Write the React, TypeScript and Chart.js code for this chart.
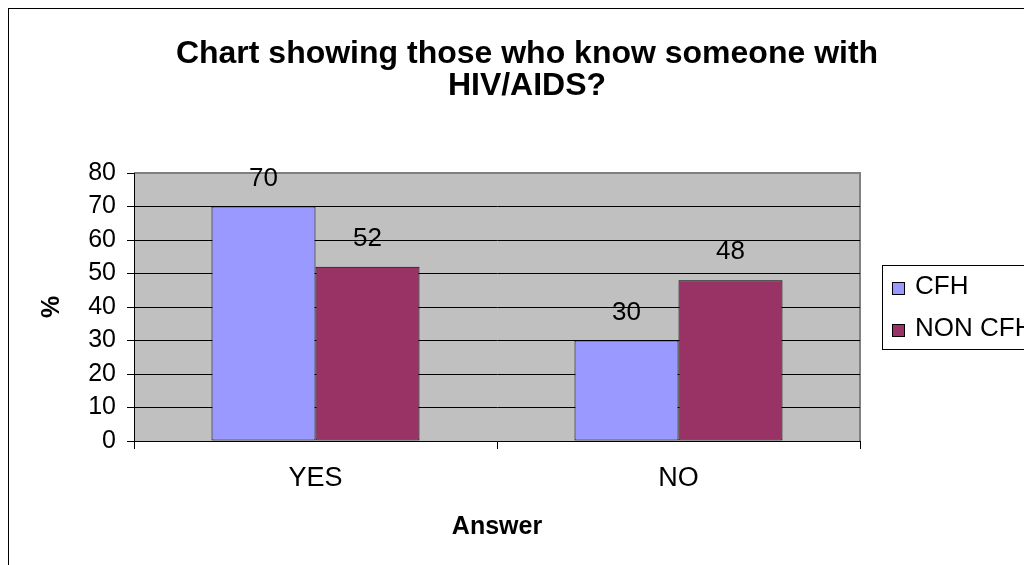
import React, { useEffect, useRef } from "react";
import { Chart, registerables } from "chart.js";

Chart.register(...registerables);

const categories = ["YES", "NO"];
const seriesNames = ["CFH", "NON CFH"];
const cfhValues = [70, 30];
const nonCfhValues = [52, 48];
const seriesColors = ["#9999FF", "#993366"];
const yTickMin = 0;
const yTickMax = 80;
const yTickStep = 10;
const titleLines = ["Chart showing those who know someone with", "HIV/AIDS?"];
const yAxisTitle = "%";
const xAxisTitle = "Answer";

const FONT = '"Liberation Sans", Arial, Helvetica, sans-serif';
const W = 1023;
const H = 556;

export default function App() {
  const ref = useRef<HTMLCanvasElement | null>(null);

  useEffect(() => {
    const canvas = ref.current;
    if (!canvas) return;

    const plotBg = {
      id: "plotBg",
      beforeDraw(chart: any) {
        const { ctx, chartArea: a } = chart;
        ctx.save();
        ctx.fillStyle = "#C0C0C0";
        ctx.fillRect(a.left, a.top, a.right - a.left, a.bottom - a.top);
        ctx.strokeStyle = "#808080";
        ctx.lineWidth = 2;
        ctx.beginPath();
        ctx.moveTo(a.left, a.top);
        ctx.lineTo(a.right, a.top);
        ctx.lineTo(a.right, a.bottom);
        ctx.stroke();
        ctx.restore();
      },
    };

    const extras = {
      id: "extras",
      afterDatasetsDraw(chart: any) {
        const { ctx } = chart;
        ctx.save();
        ctx.fillStyle = "#000";
        ctx.textAlign = "center";
        ctx.textBaseline = "middle";
        ctx.font = `26px ${FONT}`;
        chart.data.datasets.forEach((ds: any, i: number) => {
          const meta = chart.getDatasetMeta(i);
          meta.data.forEach((el: any, j: number) => {
            ctx.fillText(String(ds.data[j]), el.x, el.y - 28);
          });
        });
        ctx.restore();
      },
      afterDraw(chart: any) {
        const { ctx } = chart;
        ctx.save();
        // title
        ctx.fillStyle = "#000";
        ctx.textAlign = "center";
        ctx.textBaseline = "middle";
        ctx.font = `bold 32px ${FONT}`;
        titleLines.forEach((line, i) => {
          ctx.fillText(line, 518, 45 + i * 32);
        });
        // legend
        ctx.strokeStyle = "#000";
        ctx.lineWidth = 1;
        ctx.strokeRect(873.5, 256.5, 200, 84);
        ctx.font = `26px ${FONT}`;
        ctx.textAlign = "left";
        const ys = [273, 315];
        seriesNames.forEach((name, i) => {
          ctx.fillStyle = seriesColors[i];
          ctx.fillRect(883, ys[i], 13, 13);
          ctx.strokeStyle = "#000";
          ctx.strokeRect(883.5, ys[i] + 0.5, 12, 12);
          ctx.fillStyle = "#000";
          ctx.fillText(name, 906, ys[i] + 5);
        });
        ctx.restore();
      },
    };

    const chart = new Chart(canvas, {
      type: "bar",
      data: {
        labels: categories,
        datasets: [
          {
            label: seriesNames[0],
            data: cfhValues,
            backgroundColor: seriesColors[0],
            borderColor: "#000",
            borderWidth: 1,
            borderSkipped: false,
            categoryPercentage: 0.573,
            barPercentage: 1,
          },
          {
            label: seriesNames[1],
            data: nonCfhValues,
            backgroundColor: seriesColors[1],
            borderColor: "#000",
            borderWidth: 1,
            borderSkipped: false,
            categoryPercentage: 0.573,
            barPercentage: 1,
          },
        ],
      },
      options: {
        animation: false,
        responsive: false,
        devicePixelRatio: 1,
        layout: { padding: { left: 0, right: W - 851, top: 164, bottom: 0 } },
        plugins: {
          legend: { display: false },
          title: { display: false },
          tooltip: { enabled: false },
        },
        scales: {
          x: {
            grid: {
              offset: true,
              drawOnChartArea: false,
              drawTicks: true,
              tickLength: 8,
              tickColor: "#000",
              color: "#000",
            },
            border: { color: "#000", width: 1 },
            ticks: { color: "#000", font: { family: FONT, size: 27 }, padding: 13 },
            title: {
              display: true,
              text: xAxisTitle,
              color: "#000",
              font: { family: FONT, size: 25, weight: "bold" },
              padding: { top: 0, bottom: 23 },
            },
            afterFit(scale: any) {
              scale.height = 124;
            },
          },
          y: {
            min: yTickMin,
            max: yTickMax,
            ticks: {
              stepSize: yTickStep,
              color: "#000",
              font: { family: FONT, size: 25 },
              padding: 11,
            },
            grid: {
              color: (c: any) => (c.tick && c.tick.value === yTickMax ? "rgba(0,0,0,0)" : "#000"),
              tickColor: "#000",
              tickLength: 7,
              lineWidth: 1,
            },
            border: { color: "#000", width: 1 },
            title: {
              display: true,
              text: yAxisTitle,
              color: "#000",
              font: { family: FONT, size: 25, weight: "bold" },
              padding: { top: 28, bottom: 0 },
            },
            afterFit(scale: any) {
              scale.width = 125;
            },
          },
        },
      } as any,
      plugins: [plotBg, extras],
    });

    return () => chart.destroy();
  }, []);

  return (
    <div
      style={{
        width: W,
        height: H,
        borderLeft: "1px solid #000",
        borderTop: "1px solid #000",
        background: "#fff",
      }}
    >
      <canvas ref={ref} width={W} height={H} style={{ display: "block", width: W, height: H }} />
    </div>
  );
}
